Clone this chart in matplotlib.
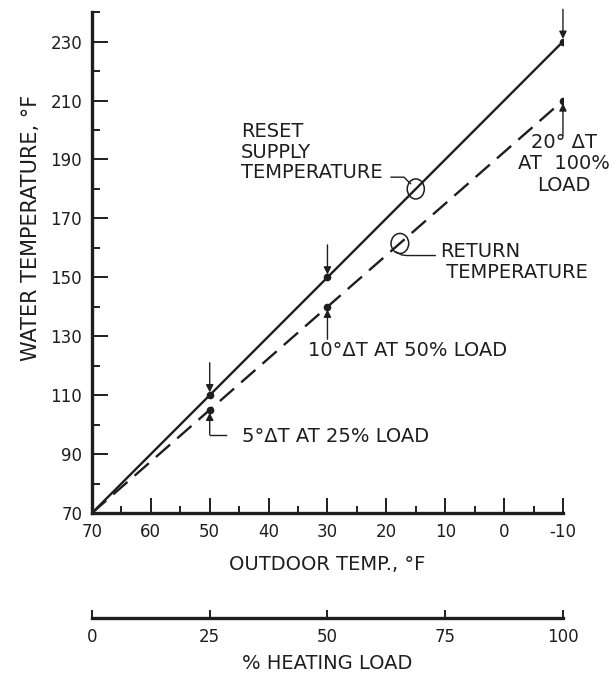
import matplotlib
matplotlib.use("Agg")
import matplotlib.pyplot as plt
from matplotlib.patches import Ellipse
from matplotlib.ticker import MultipleLocator

# data
outdoor = [70, 50, 30, -10]          # outdoor temp, F
supply = [70, 110, 150, 230]         # reset supply temperature, F
ret = [70, 105, 140, 210]            # return temperature, F
load_ticks = [0, 25, 50, 75, 100]    # % heating load
y_ticks = [70, 90, 110, 130, 150, 170, 190, 210, 230]
x_ticks = [70, 60, 50, 40, 30, 20, 10, 0, -10]

ink = "#1e1e1e"
fs = 14

fig = plt.figure(figsize=(6.09, 6.77), dpi=100)
ax = fig.add_axes([0.151, 0.2422, 0.7734, 0.7398])

ax.plot(outdoor, supply, color=ink, lw=1.7)
ax.plot(outdoor, ret, color=ink, lw=1.7, dashes=(8, 4))
ax.plot(outdoor[1:], supply[1:], "o", color=ink, ms=4.5)
ax.plot(outdoor[1:], ret[1:], "o", color=ink, ms=4.5)

ax.set_xlim(70, -10)
ax.set_ylim(70, 240)
ax.set_xticks(x_ticks)
ax.set_yticks(y_ticks)
ax.set_xticklabels([str(v) for v in x_ticks])
ax.xaxis.set_minor_locator(MultipleLocator(5))
ax.yaxis.set_minor_locator(MultipleLocator(10))
for s in ["top", "right"]:
    ax.spines[s].set_visible(False)
for s in ["left", "bottom"]:
    ax.spines[s].set_linewidth(2.4)
    ax.spines[s].set_color(ink)
ax.tick_params(which="both", direction="in", color=ink, width=1.4,
               labelsize=12, labelcolor=ink)
ax.tick_params(axis="y", which="major", length=11.5, pad=7)
ax.tick_params(axis="y", which="minor", length=6)
ax.tick_params(axis="x", which="major", length=11, pad=7)
ax.tick_params(axis="x", which="minor", length=5)

ax.set_xlabel("OUTDOOR TEMP., °F", fontsize=fs, color=ink)
ax.xaxis.set_label_coords(0.5, -0.083)
ax.set_ylabel("WATER TEMPERATURE, °F", fontsize=15, color=ink)
ax.yaxis.set_label_coords(-0.108, 0.57)

# arrows pointing down onto supply points
arr = dict(arrowstyle="-|>", color=ink, lw=1.0, mutation_scale=11,
           shrinkA=0, shrinkB=2)
for x, y in zip(outdoor[1:], supply[1:]):
    ax.annotate("", xy=(x, y), xytext=(x, y + 11), arrowprops=arr,
                annotation_clip=False)

# return-side call-outs
ax.annotate("", xy=(-10, 210), xytext=(-10, 198), arrowprops=arr)
ax.text(-10.2, 188.5, "20° ΔT\nAT  100%\nLOAD", ha="center", va="center",
        fontsize=fs, color=ink, linespacing=1.15, clip_on=False)

ax.annotate("", xy=(30, 140), xytext=(30, 129), arrowprops=arr)
ax.text(33.3, 125, "10°ΔT AT 50% LOAD", ha="left", va="center",
        fontsize=fs, color=ink)

ax.annotate("", xy=(50, 105), xytext=(50, 96.6), arrowprops=arr)
ax.plot([50, 47.2], [96.6, 96.6], color=ink, lw=1.0)
ax.text(44.5, 96, "5°ΔT AT 25% LOAD", ha="left", va="center",
        fontsize=fs, color=ink)

# line labels with small circles on the lines
ax.text(44.7, 192.5, "RESET\nSUPPLY\nTEMPERATURE", ha="left", va="center",
        fontsize=fs, color=ink, linespacing=1.12)
ax.plot([19.2, 17.0, 15.9], [184.0, 184.0, 181.8], color=ink, lw=1.0)
ax.add_patch(Ellipse((15.0, 180.0), 2.9, 6.8, fill=False, ec=ink, lw=1.1))

ax.add_patch(Ellipse((17.7, 161.5), 3.0, 6.8, fill=False, ec=ink, lw=1.1))
ax.plot([18.3, 17.4, 16.5, 11.7], [158.6, 157.6, 157.4, 157.4], color=ink, lw=1.0)
ax.text(10.9, 155.2, "RETURN\n TEMPERATURE", ha="left", va="center",
        fontsize=fs, color=ink, linespacing=1.12)

# second scale: % heating load
ax2 = fig.add_axes([0.151, 0.0871, 0.7734, 0.01])
ax2.set_xlim(0, 100)
ax2.set_xticks(load_ticks)
ax2.set_yticks([])
for s in ["top", "right", "left"]:
    ax2.spines[s].set_visible(False)
ax2.spines["bottom"].set_linewidth(2.4)
ax2.spines["bottom"].set_color(ink)
ax2.patch.set_visible(False)
ax2.tick_params(axis="x", direction="in", length=6, width=1.4, color=ink,
                labelsize=12, labelcolor=ink, pad=7)
ax2.set_xlabel("% HEATING LOAD", fontsize=fs, color=ink, labelpad=6)

fig.savefig("out.png", dpi=100, facecolor="white")
